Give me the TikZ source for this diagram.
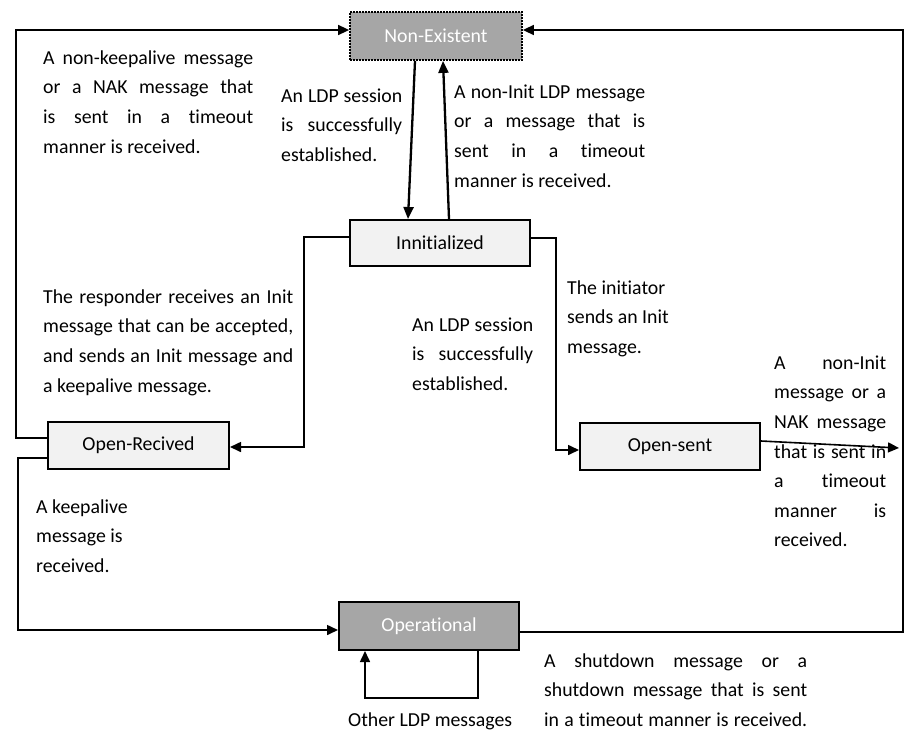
\documentclass[tikz,border=0pt]{standalone}
\usepackage{fontspec}
\setmainfont{Carlito}[Ligatures={NoCommon,NoContextual}]
\usetikzlibrary{arrows.meta,calc}
\definecolor{boxgray}{HTML}{A6A6A6}
\definecolor{boxlight}{HTML}{F2F2F2}
\newcommand{\jln}[2]{\makebox[#1][s]{\strut#2}}
\newcommand{\lln}[1]{\strut#1}
\begin{document}
\begin{tikzpicture}[x=1pt,y=-1pt,
  font=\fontsize{19.8}{29.6}\selectfont,
  state/.style={draw, line width=2pt, inner sep=0pt, text=black, fill=boxlight},
  darkstate/.style={state, fill=boxgray, text=white},
  txt/.style={inner sep=0pt, align=left, anchor=north west},
  conn/.style={line width=1.6pt},
  arr/.style={conn, -{Triangle[length=11pt,width=10pt]}},
  thickarr/.style={line width=2.3pt, -{Triangle[length=12pt,width=10pt]}}]
\useasboundingbox (0,0) rectangle (917,736);

% states
\node[darkstate, dash pattern=on 2pt off 1pt, line width=1.8pt, minimum width=172pt, minimum height=48pt] (ne) at (436,36) {Non-Existent};
\node[state, minimum width=180pt, minimum height=46pt] (ini) at (440,243) {Innitialized};
\node[state, minimum width=181pt, minimum height=47pt] (orc) at (138.5,445.5) {Open-Recived};
\node[state, minimum width=180pt, minimum height=47pt] (os) at (670,446.5) {Open-sent};
\node[darkstate, minimum width=180pt, minimum height=48pt] (op) at (429,626) {Operational};

% helper coordinates on the outer frame
\coordinate (rtop) at (903,30);
\coordinate (ltop) at (16,30);
\coordinate (lbot) at (18,630);
\coordinate (osend) at (899,448);

% connectors
\draw[thickarr] ([xshift=-21pt]ne.south) -- ([xshift=-32pt]ini.north);
\draw[thickarr] ([xshift=9pt]ini.north) -- ([xshift=7pt]ne.south);
\draw[arr] ([yshift=6pt]ini.west) -- ++(-45,0) |- ([yshift=-1.5pt]orc.east);
\draw[arr] ([yshift=5pt]ini.east) -- ++(25,0) |- ([yshift=-3.5pt]os.west);
\draw[arr] ([yshift=5.5pt]os.east) -- (osend);
\draw[arr] ([yshift=-6pt]op.east) -| (rtop) -- ([yshift=6pt]ne.east);
\draw[arr] ([yshift=7.5pt]orc.west) -| (ltop) -- ([yshift=6pt]ne.west);
\draw[arr] ([yshift=-12.5pt]orc.west) -| (lbot) -- ([yshift=-4pt]op.west);
\draw[arr] ([xshift=49pt]op.south) -- ++(0,47) -| ([xshift=-64pt]op.south);

% labels
\node[txt] (t1) at (43,43.4) {\jln{210pt}{A non-keepalive message}\\\jln{210pt}{or a NAK message that}\\\jln{210pt}{is sent in a timeout}\\\lln{manner is received.}};
\node[txt] (t2) at (281,81.4) {\jln{121pt}{An LDP session}\\\jln{121pt}{is successfully}\\\lln{established.}};
\node[txt] (t3) at (454,77.4) {\jln{191pt}{A non-Init LDP message}\\\jln{191pt}{or a message that is}\\\jln{191pt}{sent in a timeout}\\\lln{manner is received.}};
\node[txt] (t4) at (43,282.4) {\jln{250pt}{The responder receives an Init}\\\jln{250pt}{message that can be accepted,}\\\jln{250pt}{and sends an Init message and}\\\lln{a keepalive message.}};
\node[txt] (t5) at (412,310.4) {\jln{121pt}{An LDP session}\\\jln{121pt}{is successfully}\\\lln{established.}};
\node[txt] (t6) at (567,273.4) {\lln{The initiator}\\\lln{sends an Init}\\\lln{message.}};
\node[txt] (t7) at (774,348.4) {\jln{112pt}{A non-Init}\\\jln{112pt}{message or a}\\\jln{112pt}{NAK message}\\\jln{112pt}{that is sent in}\\\jln{112pt}{a timeout}\\\jln{112pt}{manner is}\\\lln{received.}};
\node[txt] (t8) at (36,492.4) {\lln{A keepalive}\\\lln{message is}\\\lln{received.}};
\node[txt] (t9) at (544,646.4) {\jln{263pt}{A shutdown message or a}\\\jln{263pt}{shutdown message that is sent}\\\jln{263pt}{in a timeout manner is received.}};
\node[txt] (t10) at (348,705.4) {\lln{Other LDP messages}};
\end{tikzpicture}
\end{document}
